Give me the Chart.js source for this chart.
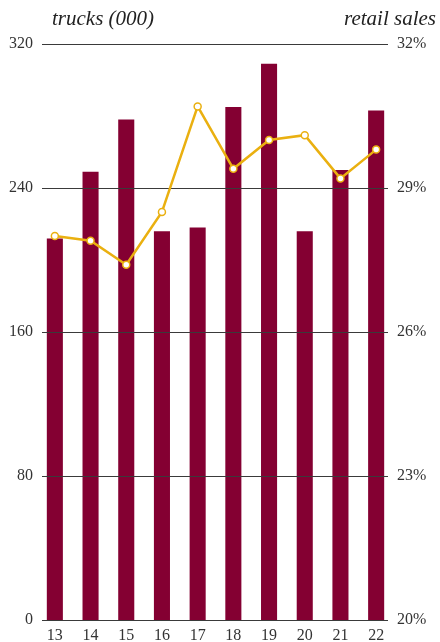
<!DOCTYPE html>
<html>
<head>
<meta charset="utf-8">
<script src="https://cdn.jsdelivr.net/npm/chart.js@4/dist/chart.umd.min.js"></script>
<style>
  html, body { margin: 0; padding: 0; background: #fff; }
  #wrap { width: 440px; height: 642px; position: relative; }
</style>
</head>
<body>
<div id="wrap"><canvas id="truckChart"></canvas></div>
<script>
const years = ['13', '14', '15', '16', '17', '18', '19', '20', '21', '22'];
const trucks = [212, 249, 278, 216, 218, 285, 309, 216, 250, 283];
const retailShare = [28.0, 27.9, 27.4, 28.5, 30.7, 29.4, 30.0, 30.1, 29.2, 29.8];
const leftTicks = [0, 80, 160, 240, 320];
const rightTicks = [20, 23, 26, 29, 32];

const serif = '"Liberation Serif", "DejaVu Serif", serif';

// horizontal rules, drawn over the bars but under the line
const rules = {
  id: 'rules',
  afterDatasetDraw(chart, args) {
    if (args.index !== 0) return;
    const ctx = chart.ctx;
    const y = chart.scales.y;
    const area = chart.chartArea;
    ctx.save();
    ctx.strokeStyle = '#3a3a3a';
    ctx.lineWidth = 1;
    leftTicks.forEach(v => {
      const py = Math.round(y.getPixelForValue(v)) + 0.5;
      ctx.beginPath();
      ctx.moveTo(area.left + 5, py);
      ctx.lineTo(area.right - 6, py);
      ctx.stroke();
    });
    ctx.restore();
  }
};

const headers = {
  id: 'headers',
  afterDraw(chart) {
    const ctx = chart.ctx;
    ctx.save();
    ctx.fillStyle = '#222';
    ctx.font = 'italic 21px ' + serif;
    ctx.textBaseline = 'alphabetic';
    ctx.textAlign = 'left';
    ctx.fillText('trucks (000)', 52, 25);
    ctx.textAlign = 'right';
    ctx.fillText('retail sales', 436, 25);
    ctx.restore();
  }
};

new Chart(document.getElementById('truckChart'), {
  type: 'bar',
  data: {
    labels: years,
    datasets: [{
      type: 'bar',
      data: trucks,
      yAxisID: 'y',
      backgroundColor: '#840032',
      barPercentage: 0.45,
      categoryPercentage: 1,
      order: 1
    }, {
      type: 'line',
      data: retailShare,
      yAxisID: 'y1',
      borderColor: '#EAB010',
      borderWidth: 2.5,
      pointRadius: 3.5,
      pointBorderWidth: 1.5,
      pointBackgroundColor: '#fff',
      pointBorderColor: '#EAB010',
      tension: 0,
      order: 0
    }]
  },
  options: {
    responsive: true,
    maintainAspectRatio: false,
    animation: false,
    layout: { padding: { top: 44, left: 0, right: 0, bottom: 0 } },
    plugins: { legend: { display: false }, tooltip: { enabled: false } },
    scales: {
      x: {
        afterFit(s) { s.height = 22; },
        grid: { display: false, tickLength: 0 },
        border: { display: false },
        ticks: { color: '#333', font: { family: serif, size: 16 }, padding: 6 }
      },
      y: {
        position: 'left',
        min: 0, max: 320,
        afterFit(s) { s.width = 37; },
        afterBuildTicks(s) { s.ticks = leftTicks.map(v => ({ value: v })); },
        grid: { display: false, tickLength: 0 },
        border: { display: false },
        ticks: { color: '#333', font: { family: serif, size: 16 }, padding: 4 }
      },
      y1: {
        position: 'right',
        min: 20, max: 32,
        afterFit(s) { s.width = 46; },
        afterBuildTicks(s) { s.ticks = rightTicks.map(v => ({ value: v })); },
        grid: { display: false, tickLength: 0 },
        border: { display: false },
        ticks: {
          color: '#333', font: { family: serif, size: 16 }, padding: 3,
          callback: v => v + '%'
        }
      }
    }
  },
  plugins: [rules, headers]
});
</script>
</body>
</html>
